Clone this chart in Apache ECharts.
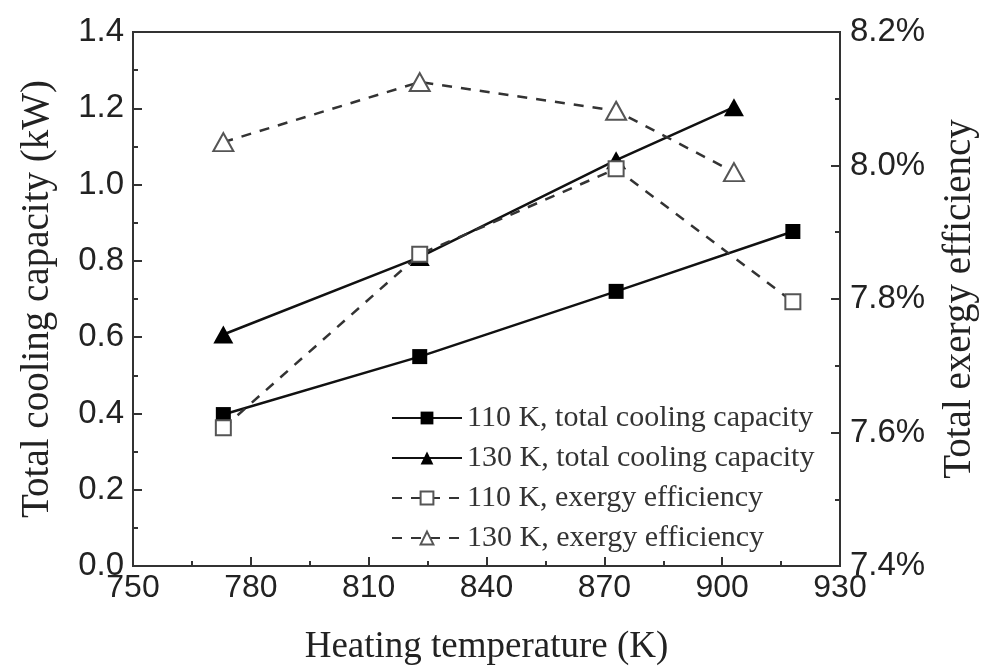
<!DOCTYPE html>
<html>
<head>
<meta charset="utf-8">
<script src="https://cdn.jsdelivr.net/npm/echarts@6/dist/echarts.min.js"></script>
<style>
html,body{margin:0;padding:0;background:#fff;}
#chart{width:990px;height:672px;}
</style>
</head>
<body>
<div id="chart"></div>
<script>
var xTicks = [750, 780, 810, 840, 870, 900, 930];
var seriesNames = [
  '110 K, total cooling capacity',
  '130 K, total cooling capacity',
  '110 K, exergy efficiency',
  '130 K, exergy efficiency'
];
var temp110 = [773, 823, 873, 918];
var temp130 = [773, 823, 873, 903];
var cooling110 = [0.397, 0.549, 0.72, 0.877];
var cooling130 = [0.607, 0.81, 1.064, 1.203];
var exergy110 = [7.607, 7.867, 7.995, 7.796];
var exergy130 = [8.035, 8.125, 8.082, 7.990];

function pairs(xs, ys) {
  return xs.map(function (x, i) { return [x, ys[i]]; });
}

var serif = 'Liberation Serif';
var sans = 'Liberation Sans';

var chart = echarts.init(document.getElementById('chart'));
chart.setOption({
  backgroundColor: '#fff',
  animation: false,
  grid: {
    left: 133, right: 150, top: 32, bottom: 106,
    outerBoundsMode: 'none', containLabel: false,
    show: true, borderColor: '#333', borderWidth: 2, backgroundColor: 'transparent'
  },
  legend: {
    orient: 'vertical',
    left: 386, top: 398,
    itemWidth: 70, itemHeight: 16,
    itemGap: 10,
    data: seriesNames,
    textStyle: { fontFamily: serif, fontSize: 30, color: '#333' }
  },
  xAxis: {
    type: 'value', min: xTicks[0], max: xTicks[xTicks.length - 1], interval: 30,
    axisLine: { show: true, lineStyle: { color: '#333', width: 2 } },
    axisTick: { show: true, inside: true, length: 9, lineStyle: { color: '#333', width: 2 } },
    minorTick: { show: true, splitNumber: 2, length: 5, lineStyle: { color: '#333', width: 2 } },
    splitLine: { show: false },
    axisLabel: { margin: 6, fontFamily: sans, fontSize: 32, color: '#222' },
    name: 'Heating temperature (K)', nameLocation: 'middle', nameGap: 63,
    nameTextStyle: { fontFamily: serif, fontSize: 37, color: '#222' }
  },
  yAxis: [
    {
      type: 'value', min: 0, max: 1.4, interval: 0.2,
      axisLine: { show: true, lineStyle: { color: '#333', width: 2 } },
      axisTick: { show: true, inside: true, length: 9, lineStyle: { color: '#333', width: 2 } },
      minorTick: { show: true, splitNumber: 2, length: 5, lineStyle: { color: '#333', width: 2 } },
      splitLine: { show: false },
      axisLabel: { margin: 9, fontFamily: sans, fontSize: 33, color: '#222',
        formatter: function (v) { return v.toFixed(1); } },
      name: 'Total cooling capacity (kW)', nameLocation: 'middle', nameGap: 76,
      nameTextStyle: { fontFamily: serif, fontSize: 39, color: '#222' }
    },
    {
      type: 'value', min: 7.4, max: 8.2, interval: 0.2, position: 'right',
      axisLine: { show: true, lineStyle: { color: '#333', width: 2 } },
      axisTick: { show: true, inside: true, length: 9, lineStyle: { color: '#333', width: 2 } },
      minorTick: { show: true, splitNumber: 2, length: 5, lineStyle: { color: '#333', width: 2 } },
      splitLine: { show: false },
      axisLabel: { margin: 10, fontFamily: sans, fontSize: 33, color: '#222',
        formatter: function (v) { return v.toFixed(1) + '%'; } },
      name: 'Total exergy efficiency', nameLocation: 'middle', nameGap: 100, nameRotate: 90,
      nameTextStyle: { fontFamily: serif, fontSize: 39, color: '#222' }
    }
  ],
  series: [
    {
      name: seriesNames[0], type: 'line', yAxisIndex: 0, z: 2,
      data: pairs(temp110, cooling110),
      symbol: 'rect', symbolSize: 15, showSymbol: true,
      itemStyle: { color: '#000' },
      lineStyle: { color: '#111', width: 2.5 }
    },
    {
      name: seriesNames[1], type: 'line', yAxisIndex: 0, z: 2,
      data: pairs(temp130, cooling130),
      symbol: 'triangle', symbolSize: [20, 18], showSymbol: true,
      itemStyle: { color: '#000' },
      lineStyle: { color: '#111', width: 2.5 }
    },
    {
      name: seriesNames[2], type: 'line', yAxisIndex: 1, z: 3,
      data: pairs(temp110, exergy110),
      symbol: 'rect', symbolSize: 15, showSymbol: true,
      itemStyle: { color: '#fff', borderColor: '#555', borderWidth: 2 },
      lineStyle: { color: '#333', width: 2.5, type: [10, 9] }
    },
    {
      name: seriesNames[3], type: 'line', yAxisIndex: 1, z: 3,
      data: pairs(temp130, exergy130),
      symbol: 'triangle', symbolSize: [20, 18], showSymbol: true,
      itemStyle: { color: '#fff', borderColor: '#555', borderWidth: 2 },
      lineStyle: { color: '#333', width: 2.5, type: [10, 9] }
    }
  ]
});
</script>
</body>
</html>
